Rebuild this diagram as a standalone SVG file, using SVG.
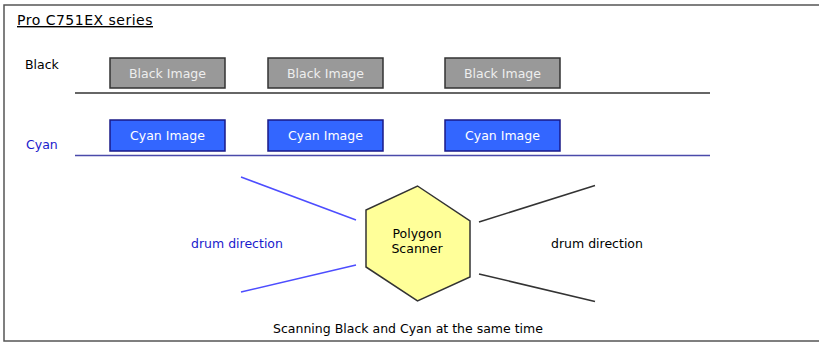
<svg xmlns="http://www.w3.org/2000/svg" width="819" height="342" viewBox="0 0 819 342">
<style>
text{font-family:"DejaVu Sans",Verdana,sans-serif;font-size:12.5px}
.bk rect{fill:#999;stroke:#333;stroke-width:1.5}
.cy rect{fill:#3366ff;stroke:#1a1a88;stroke-width:1.5}
.bt{fill:#eee;text-anchor:middle}
.ct{fill:#fff;text-anchor:middle}
</style>
<rect x="4" y="5" width="830" height="336" fill="#fff" stroke="#555" stroke-width="1.5"/>
<text x="17" y="25" text-decoration="underline" fill="#000" style="font-size:14px;letter-spacing:0.5px">Pro C751EX series</text>
<text x="25" y="69" fill="#000">Black</text>
<text x="26" y="149" fill="#1a1acc">Cyan</text>
<line x1="75" y1="93" x2="710" y2="93" stroke="#333" stroke-width="1.5"/>
<line x1="75" y1="155.5" x2="710" y2="155.5" stroke="#4a4aaa" stroke-width="1.5"/>
<g id="black1" class="bk"><rect x="110" y="58" width="115" height="30"/><text class="bt" x="167.5" y="78">Black Image</text></g>
<g id="black2" class="bk"><rect x="268" y="58" width="115" height="30"/><text class="bt" x="325.5" y="78">Black Image</text></g>
<g id="black3" class="bk"><rect x="445" y="58" width="115" height="30"/><text class="bt" x="502.5" y="78">Black Image</text></g>
<g id="cyan1" class="cy"><rect x="110" y="120" width="115" height="31"/><text class="ct" x="167.5" y="140">Cyan Image</text></g>
<g id="cyan2" class="cy"><rect x="268" y="120" width="115" height="31"/><text class="ct" x="325.5" y="140">Cyan Image</text></g>
<g id="cyan3" class="cy"><rect x="445" y="120" width="115" height="31"/><text class="ct" x="502.5" y="140">Cyan Image</text></g>
<g id="connectors" stroke-width="1.5">
<line x1="241" y1="177" x2="356" y2="220" stroke="#4d4dff"/>
<line x1="241" y1="292" x2="356" y2="265" stroke="#4d4dff"/>
<line x1="479" y1="222" x2="595" y2="185.5" stroke="#333"/>
<line x1="479" y1="274" x2="595" y2="301.5" stroke="#333"/>
</g>
<g id="scanner">
<polygon points="417.5,186 470,221 470,277 417.5,301 366,267 366,210" fill="#ffff99" stroke="#333" stroke-width="1.5"/>
<text x="417" y="238" text-anchor="middle" fill="#000">Polygon</text>
<text x="417" y="253" text-anchor="middle" fill="#000">Scanner</text>
</g>
<text x="191" y="248" fill="#1a1acc">drum direction</text>
<text x="551" y="248" fill="#000">drum direction</text>
<text x="408" y="333" text-anchor="middle" fill="#000">Scanning Black and Cyan at the same time</text>
</svg>
